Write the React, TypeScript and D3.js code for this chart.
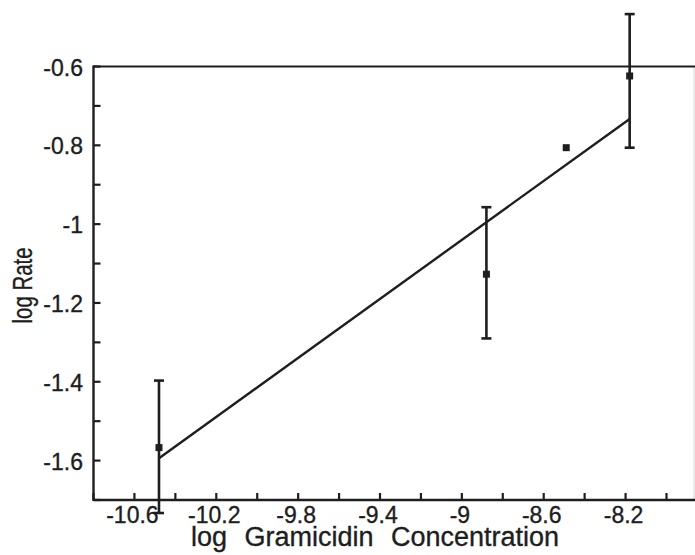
import React from "react";
import * as d3 from "d3";

const pointX = [-10.48, -8.88, -8.49, -8.18];
const pointY = [-1.567, -1.127, -0.806, -0.624];
const errUp = [0.17, 0.17, 0, 0.157];
const errDown = [0.166, 0.163, 0, 0.182];
const hasErr = [true, true, false, true];

const fitX = [-10.48, -8.18];
const fitY = [-1.594, -0.733];

const xTicks = d3.range(0, 15).map((i) => +(-10.8 + i * 0.2).toFixed(1));
const xTickLabels = [-10.6, -10.2, -9.8, -9.4, -9, -8.6, -8.2];
const yTicks = d3.range(0, 12).map((i) => +(-1.7 + i * 0.1).toFixed(1));
const yTickLabels = [-0.6, -0.8, -1, -1.2, -1.4, -1.6];

const xTitle = "log Gramicidin Concentration";
const yTitle = "log Rate";

export default function App() {
  const W = 695, H = 555;
  const x = d3.scaleLinear().domain([-10.8, -8.0]).range([93.5, 666.5]);
  const y = d3.scaleLinear().domain([-1.7, -0.6]).range([500, 66.5]);
  const line = d3.line<number>().x((d) => x(fitX[d])).y((d) => y(fitY[d]));
  const ink = "#1e1e1e";
  const font = "'Liberation Sans', Arial, Helvetica, sans-serif";
  const left = x(-10.8), right = 694, top = y(-0.6), bottom = y(-1.7);
  const textStroke = { stroke: ink, strokeWidth: 0.35 };
  return (
    <svg width={W} height={H} style={{ position: "absolute", left: 0, top: 0, background: "#fff" }} fontFamily={font}>
      {/* frame */}
      <line x1={right} x2={right} y1={top} y2={bottom} stroke="#d8d8d8" strokeWidth={1} />
      <line x1={left} x2={W} y1={top} y2={top} stroke={ink} strokeWidth={2.2} />
      <line x1={left} x2={W} y1={bottom} y2={bottom} stroke={ink} strokeWidth={2.4} />
      <line x1={left} x2={left} y1={top - 1} y2={bottom + 1} stroke={ink} strokeWidth={2.4} />
      {/* y ticks */}
      {yTicks.map((v) => (
        <line key={"yt" + v} x1={left} x2={left + 7} y1={y(v)} y2={y(v)} stroke={ink} strokeWidth={2.2} />
      ))}
      {yTickLabels.map((v) => (
        <text key={"yl" + v} x={83} y={y(v) + 1} textAnchor="end" dominantBaseline="central" fontSize={23} fill={ink} {...textStroke}>
          {String(v)}
        </text>
      ))}
      {/* x ticks */}
      {xTicks.map((v) => (
        <line key={"xt" + v} x1={x(v)} x2={x(v)} y1={bottom} y2={bottom - 7} stroke={ink} strokeWidth={2.2} />
      ))}
      {xTickLabels.map((v) => (
        <text key={"xl" + v} x={x(v) - 2} y={523} textAnchor="middle" fontSize={23} fill={ink} {...textStroke}>
          {String(v)}
        </text>
      ))}
      {/* titles */}
      <text x={375} y={546} textAnchor="middle" fontSize={27} wordSpacing={10} fill={ink} {...textStroke}>
        {xTitle}
      </text>
      <text
        transform={`translate(32,285.5) rotate(-90)`}
        textAnchor="middle"
        fontSize={27}
        textLength={76}
        lengthAdjust="spacingAndGlyphs"
        fill={ink}
        {...textStroke}
      >
        {yTitle}
      </text>
      {/* fit line */}
      <path d={line([0, 1]) || ""} fill="none" stroke={ink} strokeWidth={2.4} />
      {/* error bars */}
      {pointX.map((px, i) =>
        hasErr[i] ? (
          <g key={"e" + i} stroke={ink} strokeWidth={2.6}>
            <line x1={x(px)} x2={x(px)} y1={y(pointY[i] + errUp[i])} y2={y(pointY[i] - errDown[i])} />
            <line x1={x(px) - 5} x2={x(px) + 5} y1={y(pointY[i] + errUp[i])} y2={y(pointY[i] + errUp[i])} />
            <line x1={x(px) - 5} x2={x(px) + 5} y1={y(pointY[i] - errDown[i])} y2={y(pointY[i] - errDown[i])} />
          </g>
        ) : null
      )}
      {/* markers */}
      {pointX.map((px, i) => (
        <rect key={"m" + i} x={x(px) - 3.5} y={y(pointY[i]) - 3.5} width={7} height={7} fill={ink} />
      ))}
    </svg>
  );
}
